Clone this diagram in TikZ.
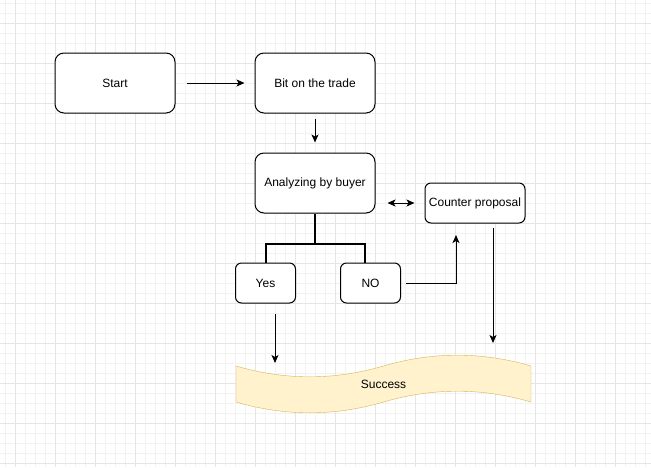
\documentclass[tikz,border=0pt]{standalone}
\usepackage{fontspec}
\setmainfont{Liberation Sans}
\usetikzlibrary{arrows.meta}
\definecolor{tapeFill}{HTML}{FFF2CC}
\definecolor{tapeLine}{HTML}{D6B656}

\begin{document}
\begin{tikzpicture}[x=1pt,y=-1pt,
    box/.style={draw,fill=white,line width=1pt,rounded corners=9pt,minimum width=120pt,minimum height=60pt,inner sep=0pt,font=\fontsize{12pt}{14pt}\selectfont},
    smallbox/.style={box,rounded corners=6pt,minimum height=40pt},
    arr/.style={line width=1pt,-{Stealth[length=8pt,width=7pt,inset=2pt]}},
    tree/.style={line width=2pt}]
    \useasboundingbox (0,0) rectangle (651,467);
    \fill[white] (0,0) rectangle (651,467);
    \foreach \x in {5,15,...,645} \draw[black!5] (\x,0) -- (\x,467);
    \foreach \y in {3,13,...,463} \draw[black!5] (0,\y) -- (651,\y);
    \foreach \x in {15,55,...,615} \draw[black!10] (\x,0) -- (\x,467);
    \foreach \y in {23,63,...,463} \draw[black!10] (0,\y) -- (651,\y);

    \draw[draw=tapeLine,fill=tapeFill] (236,366) .. controls (285.2,380.4) and (334.3,380.4) .. (383.5,366)
        .. controls (432.7,351.6) and (481.8,351.6) .. (531,366) -- (531,402)
        .. controls (481.8,387.6) and (432.7,387.6) .. (383.5,402)
        .. controls (334.3,416.4) and (285.2,416.4) .. (236,402) -- cycle;
    \node (success) [font=\fontsize{12pt}{14pt}\selectfont] at (383.5,384) {Success};

    \node (start) [box] at (115,83) {Start};
    \node (bit) [box] at (315,83) {Bit on the trade};
    \node (an) [box] at (315,183) {Analyzing by buyer};
    \node (cp) [smallbox,minimum width=100pt] at (475,203) {Counter proposal};
    \node (yes) [smallbox,minimum width=60pt] at (265.5,283) {Yes};
    \node (no) [smallbox,minimum width=60pt] at (370.5,283) {NO};

    \draw[arr,shorten <=11pt,shorten >=10pt] (start) -- (bit);
    \draw[arr,shorten <=5pt,shorten >=10pt] (bit) -- (an);
    \draw[line width=1pt,{Stealth[length=8pt,width=7pt,inset=2pt]}-{Stealth[length=8pt,width=7pt,inset=2pt]},shorten <=12pt,shorten >=10pt] (an.east |- cp.west) -- (cp.west);
    \draw[tree] (an.south) -- ++(0,30) coordinate (fork) -| (yes.north);
    \draw[tree] (fork) -| ([xshift=-5.5pt]no.north);
    \coordinate (cpIn) at (456,235);
    \draw[arr] ([xshift=5pt]no.east) -| (cpIn);
    \coordinate (sTop) at (493,343);
    \draw[arr,shorten <=4pt] (cp.south -| sTop) -- (sTop);
    \coordinate (yTop) at (275,363);
    \draw[arr,shorten <=10pt] (yes.south -| yTop) -- (yTop);

\end{tikzpicture}
\end{document}
